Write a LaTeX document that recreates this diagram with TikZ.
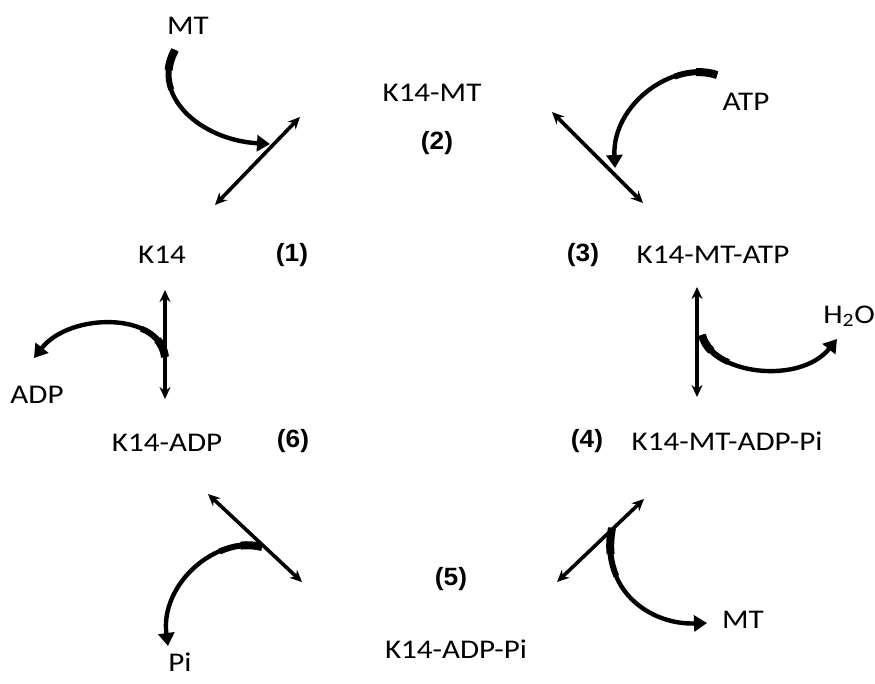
\documentclass[tikz,border=0pt]{standalone}
\usepackage{fontspec}
\setmainfont{Carlito}[FakeStretch=1.15]
\newfontfamily\numfont{Liberation Sans}[FakeStretch=1.05]
\usetikzlibrary{arrows.meta}
\begin{document}
\begin{tikzpicture}[x=1pt,y=-1pt,
  lbl/.style={font=\fontsize{27}{30}\selectfont, inner sep=0pt},
  num/.style={font=\numfont\bfseries\fontsize{25}{28}\selectfont, inner sep=0pt},
  dbl/.style={line width=3.6pt, {Stealth[length=12pt,width=11pt]}-{Stealth[length=12pt,width=11pt]}},
  curv/.style={line width=4.4pt, -{Triangle[length=13pt,width=16pt]}},
  thk/.style={line width=6pt},
  thkk/.style={line width=8pt}]
\useasboundingbox (0,0) rectangle (875,683);
% labels
\node[lbl] (mt1) at (188,26) {MT};
\node[lbl] (k14mt) at (432,93) {K14-MT};
\node[num] (n2) at (437,143) {(2)};
\node[lbl] (atp) at (746,102) {ATP};
\node[lbl] (k14) at (162,255) {K14};
\node[num] (n1) at (292,255) {(1)};
\node[num] (n3) at (583,255) {(3)};
\node[lbl] (k14mtatp) at (713,255) {K14-MT-ATP};
\node[lbl, anchor=base east] (h2o) at (875,323) {H\textsubscript{2}O};
\node[lbl] (adp) at (37,395) {ADP};
\node[lbl] (k14adp) at (167,443) {K14-ADP};
\node[num] (n6) at (293,441) {(6)};
\node[num] (n4) at (587,441) {(4)};
\node[lbl] (k14mtadppi) at (727,441) {K14-MT-ADP-Pi};
\node[num] (n5) at (451,579) {(5)};
\node[lbl] (mt2) at (743,620) {MT};
\node[lbl] (pi) at (180,662) {Pi};
\node[lbl] (k14adppi) at (456,649) {K14-ADP-Pi};
% reaction lines
\coordinate (L1a) at (215,205); \coordinate (L1b) at (300,117);
\coordinate (L2a) at (552,112); \coordinate (L2b) at (643,203);
\coordinate (L3a) at (697,287); \coordinate (L3b) at (697,397);
\coordinate (L4a) at (557,582); \coordinate (L4b) at (644,499);
\coordinate (L5a) at (208,494); \coordinate (L5b) at (302,582);
\coordinate (L6a) at (165,290); \coordinate (L6b) at (165,399);
\draw[dbl] (L1a) -- (L1b);
\draw[dbl] (L2a) -- (L2b);
\draw[dbl] (L3a) -- (L3b);
\draw[dbl] (L4a) -- (L4b);
\draw[dbl] (L5a) -- (L5b);
\draw[dbl] (L6a) -- (L6b);
% curved arrows
\coordinate (C1s) at (175,50); \coordinate (C1e) at (270,144);
\coordinate (C2s) at (717,75); \coordinate (C2e) at (615,168);
\coordinate (C3s) at (702,335); \coordinate (C3e) at (837,339);
\coordinate (C4s) at (612,528); \coordinate (C4e) at (707,623);
\coordinate (C5s) at (262,547); \coordinate (C5e) at (168,646);
\coordinate (C6s) at (165,357); \coordinate (C6e) at (34,358);
\draw[curv] (C1s) .. controls (150,95) and (200,140) .. (C1e);
\draw[curv] (C2s) .. controls (672,60) and (612,105) .. (C2e);
\draw[curv] (C3s) .. controls (712,375) and (800,385) .. (C3e);
\draw[curv] (C4s) .. controls (600,590) and (650,625) .. (C4e);
\draw[curv] (C5s) .. controls (215,535) and (160,585) .. (C5e);
\draw[curv] (C6s) .. controls (160,312) and (70,312) .. (C6e);
% tapered thick starts
\draw[thk] (C1s) .. controls (167.5,63.5) and (166.75,77) .. (171.27,89.4);
\draw[thkk] (C1s) .. controls (171.25,56.75) and (169.19,63.5) .. (168.63,70.11);
\draw[thk] (C2s) .. controls (703.5,70.5) and (688.65,71.4) .. (674.55,76.58);
\draw[thkk] (C2s) .. controls (710.25,72.75) and (703.16,71.85) .. (696.0,72.16);
\draw[thk] (C3s) .. controls (705,347) and (715.02,356.3) .. (728.55,362.2);
\draw[thkk] (C3s) .. controls (703.5,341) and (706.76,346.33) .. (711.33,350.88);
\draw[thk] (C4s) .. controls (608.4,546.6) and (610.38,562.77) .. (616.46,576.24);
\draw[thkk] (C4s) .. controls (610.2,537.3) and (609.8,545.99) .. (610.6,554.04);
\draw[thk] (C5s) .. controls (247.9,543.4) and (233.08,545.38) .. (219.47,551.57);
\draw[thkk] (C5s) .. controls (254.95,545.2) and (247.73,544.8) .. (240.55,545.61);
\draw[thk] (C6s) .. controls (163.5,343.5) and (154.35,334.05) .. (141.31,328.68);
\draw[thkk] (C6s) .. controls (164.25,350.25) and (161.59,344.51) .. (157.49,339.79);
\end{tikzpicture}
\end{document}
